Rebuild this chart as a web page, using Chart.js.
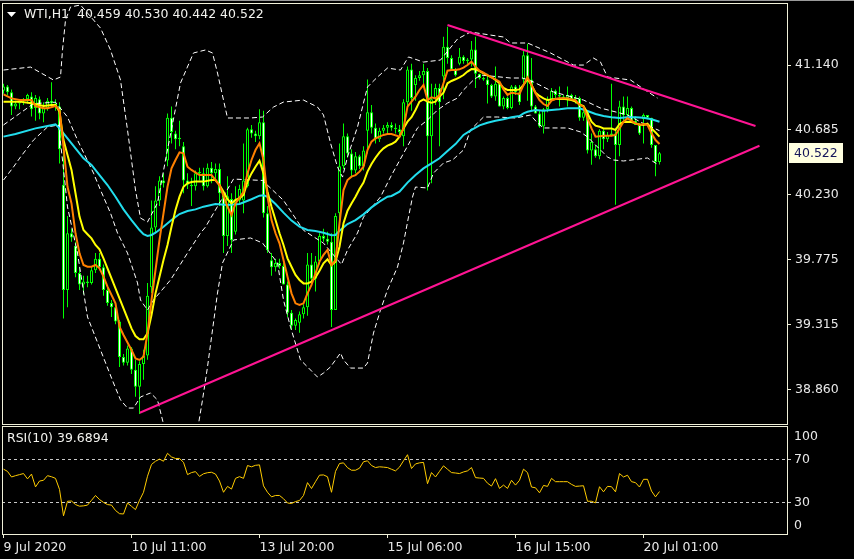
<!DOCTYPE html>
<html>
<head>
<meta charset="utf-8">
<script src="https://cdn.jsdelivr.net/npm/chart.js@4.4.1/dist/chart.umd.min.js"></script>
<style>
  html, body { margin: 0; padding: 0; background: #000; }
  #wrap { position: relative; width: 854px; height: 559px; overflow: hidden; background: #000; }
  #main { position: absolute; left: 0; top: 0; }
  #rsi { position: absolute; left: 0; top: 425px; }
</style>
</head>
<body>
<div id="wrap">
  <canvas id="main" width="854" height="425"></canvas>
  <canvas id="rsi" width="854" height="134"></canvas>
</div>
<script>
// --- WTI H1 candles, bar 0 = 9 Jul 2020 ---
const opens = [
  40.96,40.99,40.95,40.85,40.87,40.89,40.90,40.92,40.84,40.90,
  40.80,40.84,40.89,40.87,40.85,40.30,39.56,39.96,39.87,39.68,
  39.60,39.62,39.61,39.70,39.78,39.72,39.56,39.47,39.44,39.34,
  39.09,39.05,39.15,39.00,38.88,39.04,39.10,39.58,40.00,40.19,
  40.33,40.47,40.77,40.66,40.62,40.57,40.33,40.30,40.29,40.38,
  40.38,40.29,40.42,40.38,40.41,40.24,39.94,40.20,39.97,40.19,
  40.19,40.29,40.69,40.66,40.64,40.74,40.10,39.77,39.72,39.75,
  39.73,39.60,39.40,39.31,39.33,39.39,39.44,39.74,39.64,39.76,
  39.94,39.92,39.90,39.42,40.10,40.43,40.64,40.52,40.40,40.50,
  40.43,40.68,40.81,40.70,40.62,40.68,40.70,40.72,40.70,40.69,
  40.64,40.88,41.11,41.00,41.05,41.07,41.10,40.64,40.90,40.98,
  41.06,41.27,41.19,41.11,41.15,41.20,41.17,41.18,41.25,41.08,
  41.05,41.04,41.00,40.92,41.01,40.85,40.91,40.84,40.99,40.95,
  41.04,41.21,41.04,40.85,40.80,40.71,40.83,40.90,40.96,40.93,
  40.92,40.91,40.93,40.90,40.91,40.77,40.81,40.54,40.55,40.50,
  40.68,40.62,40.65,40.66,40.58,40.85,40.79,40.84,40.75,40.72,
  40.76,40.79,40.77,40.58,40.459
];
const highs = [
  41.01,41.00,40.97,40.89,40.90,40.91,40.94,40.95,40.93,40.92,
  40.88,40.91,41.02,40.90,40.88,40.55,40.08,39.99,39.90,39.72,
  39.66,39.66,39.73,39.82,39.82,39.74,39.58,39.49,39.46,39.35,
  39.11,39.17,39.16,39.07,39.06,39.14,39.61,40.19,40.29,40.36,
  40.38,40.80,40.85,40.68,40.75,40.60,40.38,40.35,40.40,40.42,
  40.42,40.45,40.46,40.45,40.45,40.25,40.36,40.24,40.29,40.30,
  40.59,40.70,40.72,40.68,40.83,40.82,40.15,39.82,39.78,39.78,
  39.75,39.62,39.42,39.36,39.41,39.46,39.82,39.82,39.80,39.96,
  39.99,39.97,39.96,40.10,40.59,40.73,40.66,40.55,40.53,40.51,
  40.57,41.04,40.86,40.73,40.70,40.72,40.74,40.74,40.73,40.72,
  40.90,41.13,41.15,41.07,41.10,41.15,41.12,41.01,41.01,41.01,
  41.34,41.41,41.21,41.12,41.26,41.21,41.19,41.31,41.34,41.08,
  41.06,41.08,41.01,41.13,41.02,40.92,40.92,41.00,41.00,41.00,
  41.25,41.29,41.19,40.86,40.82,40.84,40.92,40.98,40.97,40.99,
  40.93,40.99,40.94,40.93,40.92,40.83,40.82,40.66,40.58,40.69,
  40.69,40.67,41.01,40.70,40.89,40.92,40.92,40.85,40.78,40.73,
  40.80,40.79,40.77,40.58,40.530
];
const lows = [
  40.94,40.93,40.79,40.83,40.83,40.86,40.87,40.78,40.75,40.76,
  40.74,40.82,40.84,40.82,40.45,39.36,39.44,39.90,39.65,39.56,
  39.53,39.58,39.60,39.68,39.70,39.52,39.45,39.37,39.32,39.02,
  39.03,39.03,38.97,38.81,38.69,38.93,39.07,39.54,39.96,40.15,
  40.28,40.43,40.59,40.55,40.57,40.24,40.27,40.15,40.26,40.33,
  40.26,40.28,40.31,40.33,40.15,39.82,39.87,39.82,39.95,40.17,
  40.10,40.28,40.63,40.60,40.62,40.07,39.82,39.66,39.69,39.71,
  39.60,39.37,39.28,39.28,39.26,39.36,39.38,39.60,39.55,39.74,
  39.90,39.88,39.30,39.42,40.05,40.41,40.49,40.36,40.38,40.41,
  40.40,40.52,40.66,40.59,40.60,40.66,40.65,40.68,40.66,40.64,
  40.57,40.85,40.82,40.89,41.03,41.01,40.26,40.31,40.86,40.57,
  40.90,41.15,41.10,41.06,41.14,41.15,41.15,41.13,40.98,41.04,
  41.03,40.87,40.91,40.89,40.85,40.83,40.83,40.83,40.93,40.86,
  41.01,40.89,40.82,40.80,40.70,40.66,40.81,40.89,40.91,40.85,
  40.90,40.85,40.89,40.87,40.75,40.75,40.52,40.44,40.49,40.48,
  40.55,40.60,40.64,40.16,40.50,40.75,40.78,40.74,40.72,40.65,
  40.59,40.76,40.56,40.36,40.442
];
const closes = [
  40.99,40.95,40.85,40.87,40.89,40.90,40.93,40.83,40.91,40.80,
  40.84,40.89,40.87,40.85,40.55,39.56,39.96,39.93,39.68,39.60,
  39.62,39.61,39.70,39.78,39.72,39.56,39.47,39.44,39.34,39.09,
  39.05,39.15,39.00,38.88,39.04,39.10,39.52,40.00,40.19,40.33,
  40.31,40.77,40.67,40.62,40.63,40.33,40.30,40.29,40.38,40.39,
  40.29,40.42,40.38,40.41,40.24,39.94,40.22,39.91,40.19,40.27,
  40.33,40.69,40.66,40.64,40.74,40.10,39.84,39.72,39.75,39.73,
  39.60,39.40,39.31,39.35,39.39,39.44,39.74,39.64,39.76,39.94,
  39.92,39.90,39.42,40.08,40.43,40.64,40.52,40.40,40.50,40.43,
  40.54,40.81,40.70,40.62,40.68,40.70,40.72,40.70,40.69,40.67,
  40.88,41.11,40.91,41.05,41.07,41.10,40.64,40.90,40.98,40.88,
  41.27,41.19,41.11,41.07,41.20,41.17,41.18,41.25,41.08,41.05,
  41.04,41.00,40.92,41.01,40.85,40.91,40.84,40.99,40.95,40.88,
  41.21,41.04,40.85,40.80,40.71,40.83,40.90,40.96,40.93,40.92,
  40.91,40.93,40.90,40.91,40.77,40.81,40.54,40.60,40.50,40.68,
  40.62,40.65,40.66,40.58,40.85,40.79,40.84,40.75,40.72,40.66,
  40.79,40.77,40.58,40.46,40.522
];

// indicator lines as [bar, price]
const maFast = [[0,40.935],[2,40.907],[4,40.895],[7,40.895],[8,40.853],[10,40.837],[11,40.837],[13,40.853],[14,40.825],[15,40.568],[16,40.286],[17,40.169],[18,39.959],[19,39.818],[20,39.736],[21,39.724],[22,39.724],[23,39.736],[24,39.713],[25,39.654],[26,39.584],[28,39.467],[29,39.303],[30,39.244],[32,39.139],[33,39.080],[34,39.069],[35,39.092],[36,39.256],[37,39.490],[38,39.701],[39,39.912],[40,40.099],[41,40.286],[42,40.415],[43,40.474],[44,40.528],[45,40.521],[46,40.427],[47,40.404],[49,40.368],[52,40.368],[54,40.298],[56,40.146],[57,40.087],[58,40.169],[60,40.251],[61,40.380],[62,40.474],[63,40.544],[64,40.591],[65,40.474],[66,40.216],[67,40.052],[68,39.959],[69,39.888],[70,39.771],[71,39.654],[72,39.537],[73,39.467],[74,39.455],[75,39.467],[76,39.537],[77,39.596],[78,39.678],[79,39.760],[80,39.807],[81,39.842],[82,39.736],[83,39.771],[84,40.029],[85,40.263],[86,40.333],[87,40.357],[88,40.368],[89,40.392],[90,40.427],[91,40.544],[92,40.603],[93,40.626],[94,40.638],[95,40.650],[96,40.657],[97,40.657],[99,40.638],[100,40.696],[101,40.849],[102,40.884],[103,40.919],[104,40.966],[105,41.001],[106,40.895],[107,40.914],[108,40.907],[109,40.930],[110,41.013],[111,41.101],[112,41.106],[113,41.106],[114,41.111],[115,41.123],[116,41.141],[117,41.165],[118,41.130],[119,41.101],[120,41.087],[121,41.071],[122,41.055],[123,41.041],[124,41.024],[125,40.970],[126,40.931],[127,40.947],[128,40.942],[129,40.938],[130,41.001],[131,41.055],[132,41.001],[133,40.942],[134,40.895],[135,40.867],[136,40.853],[137,40.891],[138,40.902],[139,40.907],[141,40.907],[142,40.900],[143,40.895],[144,40.862],[145,40.849],[146,40.767],[147,40.696],[148,40.638],[150,40.645],[152,40.645],[153,40.650],[154,40.696],[155,40.743],[156,40.767],[157,40.750],[158,40.731],[159,40.720],[160,40.727],[161,40.720],[162,40.661],[163,40.614],[164,40.586]];
const maMid = [[0,40.884],[4,40.884],[7,40.872],[10,40.853],[12,40.860],[13,40.860],[14,40.813],[15,40.614],[16,40.509],[17,40.404],[18,40.240],[19,40.076],[20,39.982],[21,39.952],[22,39.923],[23,39.877],[24,39.846],[25,39.783],[26,39.713],[27,39.642],[28,39.572],[29,39.502],[30,39.432],[31,39.361],[32,39.291],[33,39.237],[34,39.214],[35,39.214],[36,39.256],[37,39.385],[38,39.537],[39,39.654],[40,39.771],[41,39.877],[42,40.005],[43,40.123],[44,40.216],[45,40.286],[46,40.310],[47,40.319],[48,40.322],[50,40.322],[52,40.333],[53,40.333],[54,40.298],[55,40.251],[56,40.198],[57,40.169],[58,40.193],[59,40.205],[60,40.228],[61,40.322],[62,40.380],[63,40.427],[64,40.469],[65,40.380],[66,40.251],[67,40.146],[68,40.052],[69,39.959],[70,39.877],[71,39.783],[72,39.724],[73,39.666],[74,39.631],[75,39.607],[76,39.607],[77,39.619],[78,39.649],[79,39.696],[80,39.748],[81,39.776],[82,39.736],[83,39.760],[84,39.865],[85,40.029],[86,40.118],[87,40.169],[88,40.216],[89,40.270],[90,40.315],[91,40.392],[92,40.446],[93,40.490],[94,40.528],[95,40.556],[96,40.575],[97,40.586],[98,40.603],[99,40.638],[100,40.696],[101,40.743],[102,40.774],[103,40.825],[104,40.884],[105,40.900],[106,40.884],[107,40.877],[108,40.884],[109,40.919],[110,40.947],[111,41.013],[112,41.029],[113,41.041],[114,41.055],[115,41.071],[116,41.095],[117,41.113],[118,41.111],[119,41.099],[120,41.083],[121,41.069],[122,41.055],[123,41.036],[124,41.013],[125,40.980],[126,40.966],[128,40.966],[129,40.970],[130,41.001],[131,41.041],[132,41.001],[133,40.947],[134,40.924],[135,40.907],[136,40.895],[138,40.902],[140,40.905],[142,40.895],[143,40.884],[144,40.865],[145,40.853],[146,40.802],[147,40.743],[148,40.715],[149,40.708],[150,40.696],[152,40.696],[153,40.685],[154,40.727],[155,40.741],[156,40.743],[157,40.741],[158,40.731],[159,40.724],[160,40.720],[161,40.729],[162,40.696],[163,40.668],[164,40.638]];
const maSlow = [[0,40.638],[3,40.657],[8,40.696],[11,40.713],[13,40.724],[14,40.696],[16,40.626],[18,40.556],[20,40.486],[22,40.439],[24,40.368],[26,40.298],[28,40.216],[30,40.127],[32,40.052],[34,39.982],[35,39.952],[36,39.940],[37,39.947],[38,39.963],[40,40.005],[42,40.052],[44,40.094],[46,40.115],[48,40.127],[50,40.146],[53,40.165],[56,40.158],[59,40.165],[62,40.198],[64,40.223],[65,40.226],[66,40.216],[68,40.165],[70,40.104],[72,40.048],[74,40.006],[76,39.982],[78,39.975],[80,39.963],[82,39.945],[83,39.947],[84,39.977],[86,40.024],[88,40.052],[90,40.092],[92,40.141],[94,40.181],[96,40.216],[97,40.221],[99,40.251],[101,40.315],[103,40.368],[105,40.415],[107,40.450],[109,40.486],[111,40.537],[113,40.586],[115,40.650],[117,40.685],[119,40.717],[121,40.736],[123,40.750],[125,40.760],[127,40.774],[129,40.783],[130,40.802],[131,40.813],[133,40.825],[135,40.820],[137,40.825],[139,40.830],[141,40.837],[144,40.837],[146,40.818],[148,40.797],[150,40.783],[152,40.774],[154,40.769],[156,40.774],[158,40.774],[160,40.771],[162,40.760],[164,40.743]];
const bandUpper = [[0,41.106],[6.75,41.127],[12.5,41.036],[14.25,41.057],[14.75,41.247],[15.5,41.457],[16.75,41.549],[19.25,41.563],[24.25,41.401],[26.75,41.247],[29.25,41.036],[31,40.685],[33,40.263],[34.25,40.066],[36,40.038],[38.5,40.172],[40.5,40.474],[44.25,41.015],[47.5,41.226],[50.5,41.247],[52.25,41.226],[53.5,41.085],[55,40.895],[56,40.769],[61.75,40.769],[64.75,40.776],[67.5,40.846],[70,40.881],[75,40.895],[78.5,40.846],[80,40.790],[81.75,40.593],[83.5,40.425],[84.75,40.354],[86,40.495],[88.5,40.706],[91,40.987],[93.5,41.057],[96,41.120],[99.25,41.106],[101.25,41.198],[105,41.162],[109.25,41.176],[113.5,41.324],[116.75,41.373],[125,41.338],[126.75,41.296],[131,41.296],[136.75,41.226],[142.5,41.141],[145,41.141],[147.5,41.190],[149.25,41.162],[151,41.057],[156.75,41.036],[160,40.973],[163.5,40.909]];
const bandMiddle = [[0,40.72],[4,40.80],[7.5,40.87],[13,40.88],[16,40.776],[18.5,40.614],[22.5,40.382],[24.25,40.263],[26.75,40.101],[28.5,39.961],[31,39.820],[33.5,39.610],[34.25,39.490],[36,39.420],[37.5,39.490],[41.75,39.631],[46,39.820],[49.25,39.961],[50.5,40.003],[57.5,40.34],[64.75,40.33],[70,40.19],[75,39.98],[80,39.89],[84.5,39.74],[86,39.841],[88.5,39.961],[90,40.073],[94.25,40.214],[96.75,40.354],[103.5,40.699],[106,40.755],[108.5,40.825],[111,40.874],[113.5,40.909],[115,40.966],[117.5,41.036],[119.25,41.071],[126.75,41.050],[129.75,41.050],[132.5,41.022],[137.5,40.952],[145,40.895],[149.25,40.839],[156,40.79],[160,40.73],[164,40.68]];
const bandLower = [[0,40.333],[2.5,40.425],[4.25,40.495],[7.5,40.614],[11,40.706],[13.75,40.720],[14.75,40.474],[16,40.144],[18.5,39.820],[21,39.371],[24.25,39.139],[27.5,38.907],[29.25,38.788],[31,38.731],[32.5,38.731],[34.25,38.809],[36.75,38.837],[38.5,38.788],[40,38.619],[43,38.30],[45.5,38.23],[47.5,38.44],[48.75,38.619],[49.75,38.788],[51,39.020],[52.25,39.280],[53.5,39.539],[54.75,39.750],[57.5,39.912],[61.75,39.926],[64.75,39.891],[68.5,39.750],[70,39.490],[71.75,39.300],[74.25,39.069],[76,39.020],[78.5,38.949],[80,38.977],[81.75,39.020],[84.25,39.118],[85,39.069],[86.75,39.012],[90,39.012],[91,39.048],[92.5,39.258],[94.25,39.420],[96,39.561],[98.5,39.722],[100,39.891],[101.25,40.073],[102.25,40.214],[103,40.284],[106,40.277],[107.5,40.382],[110,40.453],[112.25,40.474],[115,40.544],[116.75,40.685],[118.5,40.734],[120,40.776],[123.5,40.776],[128,40.769],[131.75,40.790],[133.5,40.734],[135,40.699],[141,40.699],[144.25,40.671],[146,40.636],[151,40.495],[152.5,40.474],[155,40.467],[161,40.488],[163.75,40.439]];
const trendUpper = [[111,41.422],[188,40.713]];
const trendLower = [[34.08,38.698],[189,40.574]];

// RSI(10), one value per bar
const rsiValues = [
  60.6,58.5,53.3,54.5,55.5,56.5,51.5,56.0,44.0,49.5,
  50.2,54.5,53.5,52.0,41.7,17.0,30.6,30.8,27.5,26.0,
  26.3,27.0,31.5,36.0,32.2,29.5,27.5,27.0,22.0,19.0,
  18.7,29.0,25.9,22.8,31.5,39.0,54.0,65.0,68.0,70.0,
  68.0,75.4,72.0,70.6,70.6,67.0,55.5,57.4,58.3,53.8,
  56.3,57.3,57.7,56.0,49.5,39.0,44.5,42.0,52.0,53.6,
  52.0,64.0,62.8,64.2,64.6,45.0,39.0,34.7,36.0,36.0,
  33.0,29.0,28.5,30.3,31.3,36.0,48.0,42.5,48.9,55.0,
  55.2,53.5,39.0,58.5,65.9,66.5,62.0,59.6,59.6,61.5,
  67.5,68.4,64.0,62.1,62.8,62.5,62.1,60.5,59.0,62.5,
  68.4,74.1,61.2,65.5,66.5,66.9,47.0,57.4,53.3,58.5,
  63.7,60.5,57.4,57.0,56.5,58.0,59.0,62.1,52.7,52.3,
  52.0,47.5,44.8,51.7,42.6,45.7,42.6,50.2,45.7,50.2,
  60.6,57.4,43.9,43.2,38.5,45.4,44.5,52.0,48.9,48.9,
  48.9,48.9,46.4,44.5,44.8,45.1,30.6,30.6,29.1,44.2,
  39.4,44.5,44.2,39.4,56.5,53.3,54.9,48.9,48.0,43.9,
  51.1,51.1,40.1,34.7,39.6894
];

const priceTicks = [38.860, 39.315, 39.775, 40.230, 40.685, 41.140];
const rsiTicks = [0, 30, 70, 100];
const rsiLevels = [30, 70];
const timeTickBars = [0, 32, 64, 96, 128, 160];
const timeTickLabels = ['9 Jul 2020', '10 Jul 11:00', '13 Jul 20:00', '15 Jul 06:00', '16 Jul 15:00', '20 Jul 01:00'];

// --- look ---
const FONT = '"DejaVu Sans", Verdana, sans-serif';
const TEXT = '#e8e8e8';
const FRAME = '#f0f0d8';
const LIME = '#00ff00';
const PINK = '#ff1493';
const X_MIN = -0.375, X_MAX = 195.875;   // 4 px per bar

Chart.defaults.font.family = FONT;
Chart.defaults.font.size = 12.5;
Chart.defaults.color = TEXT;

const pts = arr => arr.map(p => ({ x: p[0], y: p[1] }));
const last = closes.length - 1;

const wickData = highs.map((h, i) => ({ x: i, y: [lows[i], h] }));
const bodyData = opens.map((o, i) => ({ x: i, y: [o, closes[i]] }));
const bodyFill = opens.map((o, i) => closes[i] >= o ? '#000000' : '#ffffff');

// frame around the plot area (MT4 style)
const framePlugin = {
  id: 'frame',
  afterDraw(chart, args, opts) {
    const a = chart.chartArea, ctx = chart.ctx;
    const l = Math.round(a.left), r = Math.round(a.right), b = Math.round(a.bottom);
    const t = Math.round(a.top) - (opts.topOffset || 0);
    ctx.save();
    ctx.fillStyle = FRAME;
    ctx.fillRect(l, t, r - l + 1, 1);
    ctx.fillRect(l, b, r - l + 1, 1);
    ctx.fillRect(l, t, 1, b - t + 1);
    ctx.fillRect(r, t, 1, b - t + 1);
    ctx.restore();
  }
};

// title + current price tag
const mainOverlay = {
  id: 'mainOverlay',
  afterDraw(chart) {
    const ctx = chart.ctx, ys = chart.scales.y, a = chart.chartArea;
    ctx.save();
    ctx.fillStyle = '#9a9a9a';
    ctx.fillRect(0, 0, chart.width, 1);
    ctx.fillStyle = '#ffffff';
    ctx.beginPath();
    ctx.moveTo(7, 12); ctx.lineTo(16, 12); ctx.lineTo(11.5, 17); ctx.closePath();
    ctx.fill();
    ctx.font = '12.5px ' + FONT;
    ctx.textBaseline = 'middle';
    ctx.fillStyle = '#f2f2ee';
    const title = 'WTI,H1  ' + [opens[last], highs[last], lows[last], closes[last]].map(v => v.toFixed(3)).join(' ');
    ctx.fillText(title, 24, 15);

    const py = Math.round(ys.getPixelForValue(closes[last]));
    const bx = Math.round(a.right) + 2;
    ctx.fillStyle = '#ffffe0';
    ctx.fillRect(bx, py - 10, 54, 20);
    ctx.fillStyle = '#14145a';
    ctx.fillText(closes[last].toFixed(3), bx + 5, py + 0.5);
    ctx.restore();
  }
};

const rsiOverlay = {
  id: 'rsiOverlay',
  beforeDatasetsDraw(chart) {
    const ctx = chart.ctx, ys = chart.scales.y, a = chart.chartArea;
    ctx.save();
    ctx.strokeStyle = '#c8c8c8';
    ctx.lineWidth = 1;
    ctx.setLineDash([3, 3]);
    rsiLevels.forEach(v => {
      const y = Math.round(ys.getPixelForValue(v)) + 0.5;
      ctx.beginPath();
      ctx.moveTo(a.left, y);
      ctx.lineTo(a.right + 5, y);
      ctx.stroke();
    });
    ctx.restore();
  },
  afterDraw(chart) {
    const ctx = chart.ctx, ys = chart.scales.y, a = chart.chartArea;
    ctx.save();
    ctx.font = '12.5px ' + FONT;
    ctx.textBaseline = 'middle';
    ctx.fillStyle = '#f2f2ee';
    ctx.fillText('RSI(10) ' + rsiValues[last].toFixed(4), 7, 14);
    ctx.fillStyle = TEXT;
    rsiTicks.forEach(v => {
      let y = ys.getPixelForValue(v);
      if (v === 100) y += 10; else if (v === 0) y -= 8; else y += 1;
      ctx.fillText(String(v), Math.round(a.right) + 7, y);
    });
    ctx.restore();
  }
};

const lineDs = (data, color, width, dash) => ({
  type: 'line', data: pts(data), borderColor: color, borderWidth: width,
  borderDash: dash || [], pointRadius: 0, tension: 0, fill: false
});

new Chart(document.getElementById('main'), {
  type: 'bar',
  data: {
    datasets: [
      lineDs(trendUpper, PINK, 2),
      lineDs(trendLower, PINK, 2),
      lineDs(maFast, '#ff8000', 2),
      lineDs(maMid, '#ffff00', 2),
      lineDs(maSlow, '#22dded', 2),
      lineDs(bandUpper, '#ffffff', 1, [5, 3]),
      lineDs(bandMiddle, '#ffffff', 1, [5, 3]),
      lineDs(bandLower, '#ffffff', 1, [5, 3]),
      {
        type: 'bar', data: bodyData, backgroundColor: bodyFill, borderColor: LIME,
        borderWidth: 1, borderSkipped: false, barThickness: 3, grouped: false,
        inflateAmount: 0, minBarLength: 1
      },
      {
        type: 'bar', data: wickData, backgroundColor: LIME, borderWidth: 0,
        barThickness: 1, grouped: false, inflateAmount: 0
      }
    ]
  },
  options: {
    responsive: false,
    animation: false,
    events: [],
    layout: { padding: { top: 3, left: 2, right: 0, bottom: 1 } },
    plugins: { legend: { display: false }, tooltip: { enabled: false }, frame: { topOffset: 0 } },
    scales: {
      x: { type: 'linear', min: X_MIN, max: X_MAX, offset: false, bounds: 'data', display: false },
      y: {
        position: 'right', min: 38.619, max: 41.577, beginAtZero: false, bounds: 'data',
        afterFit(s) { s.width = 67; s.paddingTop = 0; s.paddingBottom = 0; },
        afterBuildTicks(s) { s.ticks = priceTicks.map(v => ({ value: v })); },
        ticks: { callback: v => Number(v).toFixed(3), color: TEXT, padding: 4, autoSkip: false },
        grid: { drawOnChartArea: false, drawTicks: true, tickLength: 4, color: FRAME },
        border: { display: false }
      }
    }
  },
  plugins: [framePlugin, mainOverlay]
});

new Chart(document.getElementById('rsi'), {
  type: 'line',
  data: {
    datasets: [{
      data: rsiValues.map((v, i) => ({ x: i, y: v })),
      borderColor: '#ffcc00', borderWidth: 1, pointRadius: 0, tension: 0, fill: false
    }]
  },
  options: {
    responsive: false,
    animation: false,
    events: [],
    layout: { padding: { top: 2, left: 2, right: 0, bottom: 0 } },
    plugins: { legend: { display: false }, tooltip: { enabled: false }, frame: { topOffset: 1 } },
    scales: {
      x: {
        type: 'linear', min: X_MIN, max: X_MAX, offset: false, bounds: 'data',
        afterFit(s) { s.height = 25; s.paddingLeft = 0; s.paddingRight = 0; },
        afterBuildTicks(s) { s.ticks = timeTickBars.map(v => ({ value: v })); },
        ticks: { callback: (v, i) => timeTickLabels[i], align: 'start', maxRotation: 0, autoSkip: false, padding: 2, color: TEXT },
        grid: { drawOnChartArea: false, drawTicks: true, tickLength: 4, color: FRAME },
        border: { display: false }
      },
      y: {
        position: 'right', min: 0, max: 100, bounds: 'data',
        afterFit(s) { s.width = 67; s.paddingTop = 0; s.paddingBottom = 0; },
        ticks: { display: false },
        grid: { display: false },
        border: { display: false }
      }
    }
  },
  plugins: [framePlugin, rsiOverlay]
});
</script>
</body>
</html>
